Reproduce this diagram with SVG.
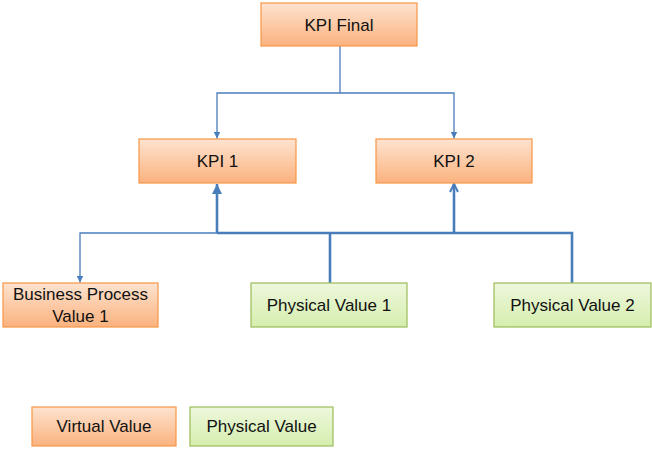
<svg xmlns="http://www.w3.org/2000/svg" width="652" height="449" viewBox="0 0 652 449">
  <style>
    .virtual { fill: url(#gOrange); stroke: #f79646; stroke-width: 1.2; }
    .physical { fill: url(#gGreen); stroke: #9bbb59; stroke-width: 1.2; }
    .label { font-family: "Liberation Sans", Arial, sans-serif; font-size: 17px; fill: #111; text-anchor: middle; dominant-baseline: central; }
    .thin { fill: none; stroke: #4a7ebb; stroke-width: 1.3; }
    .thick { fill: none; stroke: #4a7ebb; stroke-width: 2.6; }
  </style>
  <defs>
    <linearGradient id="gOrange" x1="0" y1="0" x2="0" y2="1">
      <stop offset="0" stop-color="#fde3d0"/>
      <stop offset="1" stop-color="#fbb27e"/>
    </linearGradient>
    <linearGradient id="gGreen" x1="0" y1="0" x2="0" y2="1">
      <stop offset="0" stop-color="#eef7dc"/>
      <stop offset="1" stop-color="#d5eeae"/>
    </linearGradient>
    <marker id="tri" viewBox="0 0 10 10" refX="10" refY="5" markerWidth="7" markerHeight="7" markerUnits="userSpaceOnUse" orient="auto">
      <path d="M0,0 L10,5 L0,10 Z" fill="#4a7ebb"/>
    </marker>
    <marker id="triThick" viewBox="0 0 10 10" refX="10" refY="5" markerWidth="10" markerHeight="10" markerUnits="userSpaceOnUse" orient="auto">
      <path d="M0,0 L10,5 L0,10 Z" fill="#4a7ebb"/>
    </marker>
    <marker id="open" viewBox="0 0 10 10" refX="9" refY="5" markerWidth="10" markerHeight="10" markerUnits="userSpaceOnUse" orient="auto">
      <path d="M1,1 L9,5 L1,9" fill="none" stroke="#4a7ebb" stroke-width="2"/>
    </marker>
  </defs>

  <g id="connectors">
    <!-- KPI Final fans out to KPI 1 and KPI 2 -->
    <path class="thin" d="M340,46 V93"/>
    <path class="thin" d="M340,93 H217 V138.5" marker-end="url(#tri)"/>
    <path class="thin" d="M340,93 H454 V138.5" marker-end="url(#tri)"/>
    <!-- shared bus feeding the KPIs -->
    <path class="thick" d="M217,233 H572 V283"/>
    <path class="thick" d="M330,233 V283"/>
    <path class="thick" d="M217,233 V184" marker-end="url(#triThick)"/>
    <path class="thick" d="M454,233 V184" marker-end="url(#open)"/>
    <path class="thin" d="M217,233 H80 V282.5" marker-end="url(#tri)"/>
  </g>

  <g id="kpi-final">
    <rect class="virtual" x="261" y="3" width="156" height="43"/>
    <text class="label" x="339" y="25">KPI Final</text>
  </g>
  <g id="kpi-1">
    <rect class="virtual" x="139" y="139" width="157" height="44"/>
    <text class="label" x="217.5" y="161">KPI 1</text>
  </g>
  <g id="kpi-2">
    <rect class="virtual" x="376" y="139" width="156" height="44"/>
    <text class="label" x="454" y="161">KPI 2</text>
  </g>
  <g id="business-process-value-1">
    <rect class="virtual" x="3" y="283" width="155" height="44"/>
    <text class="label" x="80.5" y="294.5">Business Process</text>
    <text class="label" x="80.5" y="316">Value 1</text>
  </g>
  <g id="physical-value-1">
    <rect class="physical" x="251" y="283" width="156" height="44"/>
    <text class="label" x="329" y="305">Physical Value 1</text>
  </g>
  <g id="physical-value-2">
    <rect class="physical" x="494" y="283" width="157" height="44"/>
    <text class="label" x="572.5" y="305">Physical Value 2</text>
  </g>

  <g id="legend-virtual">
    <rect class="virtual" x="32" y="407" width="144" height="39"/>
    <text class="label" x="104" y="426.5">Virtual Value</text>
  </g>
  <g id="legend-physical">
    <rect class="physical" x="190" y="407" width="143" height="39"/>
    <text class="label" x="261.5" y="426.5">Physical Value</text>
  </g>
</svg>
